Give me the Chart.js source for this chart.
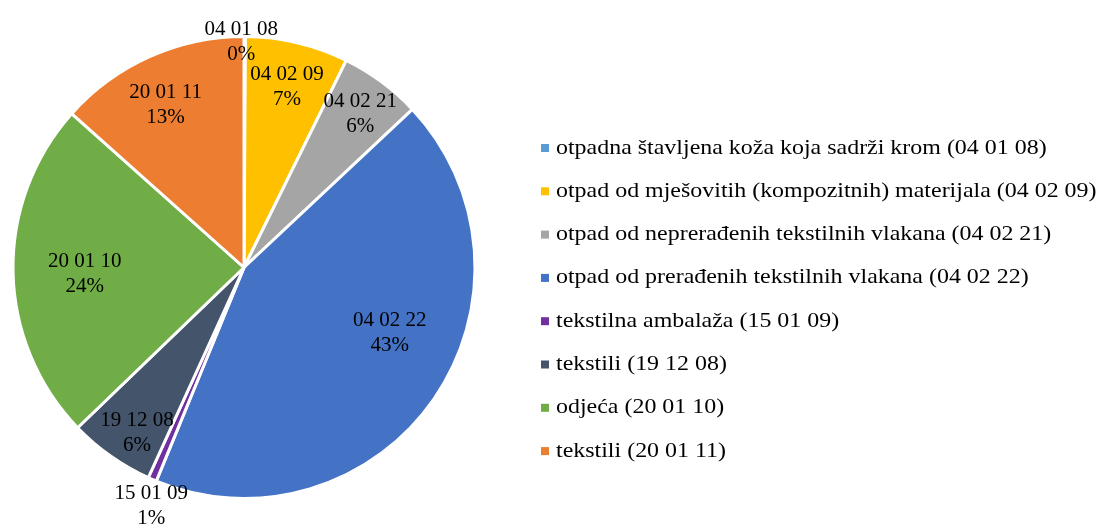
<!DOCTYPE html>
<html>
<head>
<meta charset="utf-8">
<script src="https://cdn.jsdelivr.net/npm/chart.js@4"></script>
<style>
  html, body { margin: 0; padding: 0; background: #fff; }
  canvas { display: block; }
</style>
</head>
<body>
<canvas id="pieChart" width="1099" height="525"></canvas>
<script>
let codes = ["04 01 08", "04 02 09", "04 02 21", "04 02 22", "15 01 09", "19 12 08", "20 01 10", "20 01 11"];
let names = [
  "otpadna štavljena koža koja sadrži krom (04 01 08)",
  "otpad od mješovitih (kompozitnih) materijala (04 02 09)",
  "otpad od neprerađenih tekstilnih vlakana (04 02 21)",
  "otpad od prerađenih tekstilnih vlakana (04 02 22)",
  "tekstilna ambalaža (15 01 09)",
  "tekstili (19 12 08)",
  "odjeća (20 01 10)",
  "tekstili (20 01 11)"
];
let shares = [0.1, 7.2, 5.7, 43.2, 0.6, 6.0, 23.8, 13.4];
let colors = ["#5B9BD5", "#FFC000", "#A5A5A5", "#4472C4", "#7030A0", "#44546A", "#70AD47", "#ED7D31"];

// label placement: fraction of radius, and turn (degrees) away from the slice middle
let labelRadius = [0.978, 0.806, 0.834, 0.69, 1.105, 0.85, 0.69, 0.785];
let labelTurn = [-0.9, 0, 0.6, -10.6, -2.1, -2.3, -0.9, -1.5];

const font = "'Liberation Serif', 'Times New Roman', serif";

let total = shares.reduce((a, b) => a + b, 0);

let sliceLabels = {
  id: "sliceLabels",
  afterDatasetsDraw(chart) {
    let ctx = chart.ctx;
    let meta = chart.getDatasetMeta(0);
    ctx.save();
    ctx.font = "21px " + font;
    ctx.fillStyle = "#000";
    ctx.textAlign = "center";
    ctx.textBaseline = "middle";
    meta.data.forEach((arc, i) => {
      let mid = (arc.startAngle + arc.endAngle) / 2 + labelTurn[i] * Math.PI / 180;
      let r = arc.outerRadius * labelRadius[i];
      let x = arc.x + Math.cos(mid) * r;
      let y = arc.y + Math.sin(mid) * r;
      let pct = Math.round(shares[i] / total * 100) + "%";
      ctx.fillText(codes[i], x, y - 12);
      ctx.fillText(pct, x, y + 13);
    });
    ctx.restore();
  }
};

// legend text in the picture is drawn wide, so stretch it sideways
let sideLegend = {
  id: "sideLegend",
  afterDraw(chart) {
    let ctx = chart.ctx;
    ctx.save();
    ctx.font = "21px " + font;
    ctx.textBaseline = "middle";
    ctx.textAlign = "left";
    names.forEach((n, i) => {
      let y = 148 + i * 43.3;
      ctx.fillStyle = colors[i];
      ctx.fillRect(541, y - 4, 8, 8);
      ctx.save();
      ctx.translate(556, y);
      ctx.scale(1.14, 1);
      ctx.fillStyle = "#000";
      ctx.fillText(n, 0, 0);
      ctx.restore();
    });
    ctx.restore();
  }
};

new Chart(document.getElementById("pieChart"), {
  type: "pie",
  data: {
    labels: names,
    datasets: [{
      data: shares,
      backgroundColor: colors,
      borderColor: "#fff",
      borderWidth: 3
    }]
  },
  options: {
    responsive: false,
    animation: false,
    layout: { padding: { left: 11, right: 622, top: 35, bottom: 25 } },
    plugins: {
      legend: { display: false },
      tooltip: { enabled: false }
    }
  },
  plugins: [sliceLabels, sideLegend]
});
</script>
</body>
</html>
